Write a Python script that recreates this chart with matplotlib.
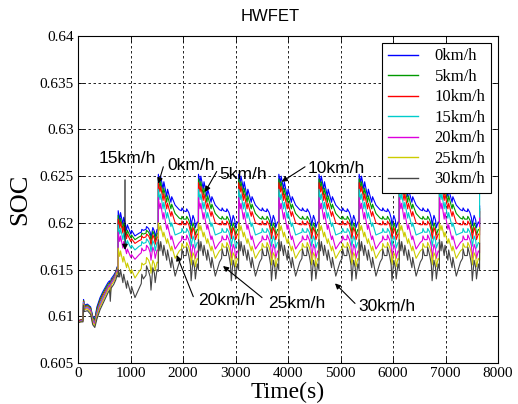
import numpy as np
import matplotlib
matplotlib.use("Agg")
import matplotlib.pyplot as plt
from matplotlib.ticker import FuncFormatter

# -----------------------------
# data
# -----------------------------
speeds = ["0km/h", "5km/h", "10km/h", "15km/h", "20km/h", "25km/h", "30km/h"]
colors = ["#0000ff", "#009900", "#ff0000", "#00cccc", "#dd00dd", "#cccc00", "#454545"]

CYCLE_LEN = 765          # HWFET cycle length (s)
N_CYCLES = 10            # warm-up + 9 repeated cycles

# warm-up part (0 .. 765 s)
warm_t = [0, 50, 95, 105, 120, 180, 240, 280, 320, 360, 420, 470, 520, 570,
          600, 615, 630, 680, 720, 745, 764]
warm_0 = [.6095, .6096, .6097, .6118, .6112, .6113, .6110, .6100, .6097, .6110, .6120,
          .6126, .6131, .6136, .6138, .6132, .6140, .6144, .6148, .6153, .6152]
warm_5 = [.6095, .6096, .6097, .6117, .6111, .6112, .6109, .6099, .6096, .6108, .6118,
          .6124, .6129, .6134, .6136, .6130, .6138, .6142, .6147, .6152, .6151]
warm_10 = [.6095, .6096, .6096, .6116, .6110, .6111, .6108, .6097, .6094, .6106, .6116,
           .6122, .6127, .6132, .6135, .6128, .6137, .6141, .6146, .6151, .6150]
warm_15 = [.6094, .6095, .6096, .6115, .6109, .6110, .6107, .6096, .6093, .6104, .6114,
           .6120, .6125, .6131, .6134, .6127, .6136, .6140, .6145, .6150, .6149]
warm_20 = [.6094, .6095, .6095, .6114, .6108, .6109, .6106, .6095, .6092, .6102, .6112,
           .6118, .6124, .6130, .6133, .6126, .6135, .6139, .6144, .6149, .6148]
warm_25 = [.6094, .6094, .6095, .6113, .6107, .6108, .6104, .6093, .6090, .6100, .6110,
           .6116, .6122, .6128, .6131, .6124, .6133, .6137, .6142, .6147, .6146]
warm_30 = [.6093, .6094, .6094, .6112, .6105, .6106, .6102, .6091, .6088, .6097, .6107,
           .6113, .6119, .6125, .6128, .6116, .6130, .6134, .6139, .6144, .6142]

# time points inside one cycle (s from cycle start)
cycle_tau = [0, 30, 45, 90, 105, 160, 175, 240, 255, 320, 400, 440, 450, 480, 530,
             540, 580, 610, 625, 660, 690, 705, 740, 764]

# first cycle after warm-up (765 .. 1530 s)
first_0 = [.6213, .6203, .6211, .6198, .6206, .6192, .6198, .6188, .6192, .6186, .6189,
           .6190, .6193, .6192, .6193, .6196, .6194, .6190, .6184, .6195, .6191, .6185,
           .6193, .6192]
first_5 = [.6208, .6198, .6205, .6193, .6200, .6187, .6192, .6184, .6187, .6182, .6185,
           .6186, .6189, .6188, .6189, .6192, .6190, .6186, .6180, .6191, .6187, .6181,
           .6189, .6188]
first_10 = [.6204, .6194, .6201, .6189, .6196, .6183, .6188, .6180, .6183, .6178, .6181,
            .6182, .6186, .6184, .6185, .6188, .6186, .6182, .6175, .6187, .6183, .6177,
            .6185, .6184]
first_15 = [.6198, .6188, .6194, .6182, .6189, .6176, .6181, .6173, .6176, .6171, .6175,
            .6176, .6180, .6178, .6179, .6183, .6180, .6176, .6169, .6181, .6177, .6170,
            .6179, .6178]
first_20 = [.6190, .6180, .6186, .6173, .6180, .6167, .6172, .6163, .6166, .6161, .6166,
            .6168, .6173, .6170, .6171, .6176, .6173, .6168, .6160, .6174, .6169, .6162,
            .6171, .6170]
first_25 = [.6173, .6164, .6170, .6158, .6164, .6152, .6157, .6146, .6150, .6141, .6148,
            .6151, .6157, .6155, .6157, .6163, .6160, .6155, .6146, .6160, .6156, .6149,
            .6158, .6157]
first_30 = [.6150, .6142, .6150, .6136, .6145, .6130, .6138, .6124, .6132, .6120, .6130,
            .6135, .6145, .6140, .6144, .6154, .6148, .6142, .6128, .6152, .6146, .6136,
            .6150, .6148]

# typical repeated cycle (1530 .. 7650 s)
cyc_0 = [.6252, .6243, .6250, .6236, .6244, .6228, .6236, .6222, .6228, .6219, .6214,
         .6213, .6216, .6213, .6212, .6215, .6211, .6205, .6197, .6208, .6203, .6195,
         .6201, .6199]
cyc_5 = [.6247, .6238, .6244, .6230, .6237, .6222, .6229, .6215, .6220, .6210, .6205,
         .6204, .6207, .6204, .6204, .6207, .6203, .6197, .6189, .6200, .6195, .6187,
         .6193, .6192]
cyc_10 = [.6243, .6233, .6239, .6224, .6231, .6215, .6221, .6207, .6212, .6200, .6198,
          .6198, .6202, .6198, .6198, .6202, .6198, .6191, .6183, .6195, .6190, .6182,
          .6188, .6187]
cyc_15 = [.6236, .6225, .6231, .6215, .6222, .6205, .6211, .6196, .6200, .6187, .6189,
          .6190, .6194, .6190, .6190, .6194, .6190, .6183, .6175, .6186, .6181, .6173,
          .6179, .6178]
cyc_20 = [.6227, .6215, .6221, .6204, .6211, .6193, .6198, .6182, .6186, .6172, .6179,
          .6181, .6186, .6182, .6182, .6187, .6182, .6175, .6162, .6177, .6172, .6162,
          .6170, .6168]
cyc_25 = [.6200, .6192, .6197, .6185, .6190, .6178, .6183, .6170, .6175, .6162, .6170,
          .6172, .6178, .6174, .6174, .6179, .6174, .6167, .6155, .6168, .6164, .6153,
          .6162, .6160]
cyc_30 = [.6182, .6170, .6180, .6165, .6176, .6160, .6171, .6152, .6163, .6143, .6158,
          .6162, .6172, .6165, .6165, .6174, .6165, .6155, .6138, .6160, .6152, .6140,
          .6156, .6150]

# value at the very end (7650 s)
end_soc = [.6218, .6215, .6212, .6235, .6205, .6195, .6178]

warm = [warm_0, warm_5, warm_10, warm_15, warm_20, warm_25, warm_30]
first = [first_0, first_5, first_10, first_15, first_20, first_25, first_30]
cyc = [cyc_0, cyc_5, cyc_10, cyc_15, cyc_20, cyc_25, cyc_30]

# annotations: label, text centre, arrow start, arrow tip  (data coords)
notes = [
    ("15km/h", (940, 0.6269), (895, 0.6246), (895, 0.6171)),
    ("0km/h", (2152, 0.6261), (1625, 0.6260), (1530, 0.6242)),
    ("5km/h", (3143, 0.6252), (2642, 0.6255), (2419, 0.6233)),
    ("10km/h", (4914, 0.6258), (4324, 0.6260), (3880, 0.6244)),
    ("20km/h", (2832, 0.6117), (2196, 0.6121), (1880, 0.61655)),
    ("25km/h", (4162, 0.6114), (3505, 0.6120), (2762, 0.61538)),
    ("30km/h", (5880, 0.6110), (5276, 0.61138), (4895, 0.61352)),
]


def build_series(i):
    tau = np.array(cycle_tau, dtype=float)
    t = [np.array(warm_t, dtype=float), CYCLE_LEN + tau]
    s = [np.array(warm[i]), np.array(first[i])]
    for k in range(2, N_CYCLES):
        t.append(k * CYCLE_LEN + tau)
        s.append(np.array(cyc[i]))
    t.append(np.array([N_CYCLES * CYCLE_LEN]))
    s.append(np.array([end_soc[i]]))
    return np.concatenate(t), np.concatenate(s)


# -----------------------------
# plot
# -----------------------------
fig = plt.figure(figsize=(5.18, 4.04), dpi=100)
ax = fig.add_axes([0.1506, 0.1015, 0.8108, 0.8094])

for i, lab in enumerate(speeds):
    t, s = build_series(i)
    ax.plot(t, s, color=colors[i], lw=0.8, label=lab)

ax.set_xlim(0, 8000)
ax.set_ylim(0.605, 0.64)
ax.set_xticks(np.arange(0, 8001, 1000))
ax.set_yticks(np.arange(0.605, 0.6401, 0.005))
ax.yaxis.set_major_formatter(FuncFormatter(lambda v, p: "%g" % round(v, 3)))

serif = "Liberation Serif"
sans = "Liberation Sans"
for lbl in ax.get_xticklabels() + ax.get_yticklabels():
    lbl.set_fontfamily(serif)
    lbl.set_fontsize(11)
ax.tick_params(direction="in", top=True, right=True, length=4, width=0.6, pad=3)

ax.grid(True, color="k", linestyle=(0, (3, 3)), lw=0.6)
for sp in ax.spines.values():
    sp.set_linewidth(0.8)

ax.set_xlabel("Time(s)", family=serif, fontsize=17, labelpad=1)
ax.set_ylabel("SOC", family=serif, fontsize=19, labelpad=6)
ax.set_title("HWFET", family=sans, fontsize=12, x=0.457, pad=11)

for lab, txt, start, tip in notes:
    ax.annotate("", xy=tip, xytext=start,
                arrowprops=dict(arrowstyle="-|>", color="k", lw=0.8,
                                mutation_scale=8, shrinkA=0, shrinkB=0))
    ax.text(txt[0], txt[1], lab, family=sans, fontsize=12.5,
            ha="center", va="center")

leg = ax.legend(loc="upper right", prop={"family": serif, "size": 12},
                fancybox=False, edgecolor="k", framealpha=1,
                handlelength=1.8, labelspacing=0.27, borderaxespad=0.4,
                borderpad=0.35, handletextpad=1.0)
leg.get_frame().set_linewidth(0.8)
for ln in leg.get_lines():
    ln.set_linewidth(1.0)
for txt in leg.get_texts():
    txt.set_ha("center")

fig.savefig("out.png", dpi=100)
